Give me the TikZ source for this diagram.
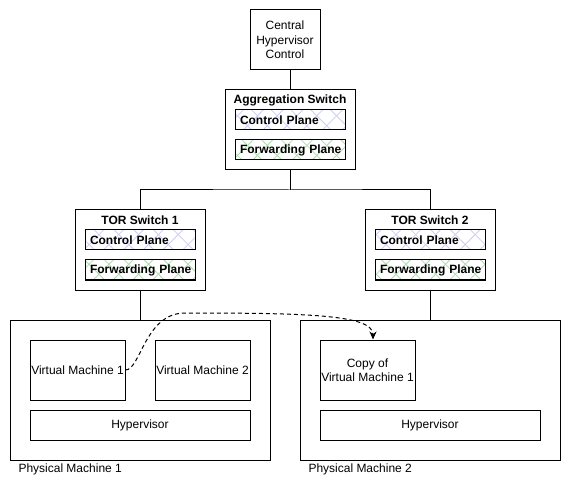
\documentclass[tikz,border=0pt]{standalone}
\usepackage{fontspec}
\setmainfont{Liberation Sans}
\usetikzlibrary{arrows.meta,patterns.meta}
\definecolor{ctrl_c}{RGB}{205,205,245}
\definecolor{fwd_c}{RGB}{175,218,175}
\tikzset{
  box_n/.style = {draw=black, line width=1pt, inner sep=0pt, align=center,
    font=\fontsize{12}{14.5}\selectfont},
  box_t/.style = {inner sep=0pt, font=\fontsize{12}{14.5}\selectfont\bfseries},
  box_l/.style = {inner sep=0pt, anchor=west, font=\fontsize{12}{14.5}\selectfont},
  pl_x/.style = {draw=black, line width=1pt, minimum width=110pt,
    minimum height=20pt, inner xsep=5pt, inner ysep=0pt, text width=100pt,
    align=left, font=\fontsize{12}{14.5}\selectfont\bfseries},
  pl_c/.style = {pl_x,
    preaction={pattern={Lines[angle=45,distance=14pt,line width=0.8pt]},
      pattern color=ctrl_c},
    pattern={Lines[angle=-45,distance=14pt,line width=0.8pt]},
    pattern color=ctrl_c},
  pl_f/.style = {pl_x,
    preaction={pattern={Lines[angle=45,distance=14pt,line width=0.8pt]},
      pattern color=fwd_c},
    pattern={Lines[angle=-45,distance=14pt,line width=0.8pt]},
    pattern color=fwd_c}
}

\begin{document}
\begin{tikzpicture}[x=1pt,y=-1pt,line width=1pt,
                    mig/.style={dashed, dash pattern=on 4pt off 3pt,
                    -{Stealth[length=8pt,width=7pt]}}]
  \useasboundingbox (0,0) rectangle (571,492);
  % controller and aggregation layer
  \node [box_n, minimum width=70pt, minimum height=60pt] (central)
    at (285,40) {Central\\Hypervisor\\Control};
  \node [box_n, minimum width=130pt, minimum height=80pt] (agg) at (290,130) {};
  \node [box_t] (agg_t) at ([yshift=-10.5pt]agg.north) {Aggregation Switch};
  \node [pl_c] (agg_c) at (290,120) {Control~Plane};
  \node [pl_f] (agg_f) at (290,150) {Forwarding~Plane};
  % top of rack switches
  \node [box_n, minimum width=130pt, minimum height=80pt] (tor1) at (140,250) {};
  \node [box_t] (tor1_t) at ([yshift=-10.5pt]tor1.north) {TOR Switch 1};
  \node [pl_c] (tor1_c) at (140,240) {Control~Plane};
  \node [pl_f] (tor1_f) at (140,270) {Forwarding~Plane};
  \node [box_n, minimum width=130pt, minimum height=80pt] (tor2) at (430,250) {};
  \node [box_t] (tor2_t) at ([yshift=-10.5pt]tor2.north) {TOR Switch 2};
  \node [pl_c] (tor2_c) at (430,240) {Control~Plane};
  \node [pl_f] (tor2_f) at (430,270) {Forwarding~Plane};
  % physical machines
  \node [box_n, minimum width=260pt, minimum height=140pt] (pm1) at (140,390) {};
  \node [box_n, minimum width=95pt, minimum height=60pt] (vm1) at (77.5,370)
    {Virtual Machine 1};
  \node [box_n, minimum width=95pt, minimum height=60pt] (vm2) at (202.5,370)
    {Virtual Machine 2};
  \node [box_n, minimum width=220pt, minimum height=30pt] (hv1) at (140,425)
    {Hypervisor};
  \node [box_l] (pm1_l) at (18,469) {Physical Machine 1};
  \node [box_n, minimum width=260pt, minimum height=140pt] (pm2) at (430,390) {};
  \node [box_n, minimum width=95pt, minimum height=60pt] (cvm) at (367.5,370)
    {Copy of\\Virtual Machine 1};
  \node [box_n, minimum width=220pt, minimum height=30pt] (hv2) at (430,425)
    {Hypervisor};
  \node [box_l] (pm2_l) at (308,469) {Physical Machine 2};
  % links
  \coordinate (fork) at (290,190);
  \coordinate (bend) at (185,313);
  \draw (agg.north) -- (agg.north |- central.south);
  \draw (agg.south) -- (fork);
  \draw (tor1.north) |- (fork) -| (tor2.north);
  \draw (tor1.south) -- (pm1.north);
  \draw (tor2.south) -- (pm2.north);
  \draw [mig] (vm1.east) .. controls +(15,0) and +(-40,0) .. (bend)
    .. controls +(120,0) and +(0,-25) .. ([xshift=5.5pt]cvm.north);
\end{tikzpicture}
\end{document}
